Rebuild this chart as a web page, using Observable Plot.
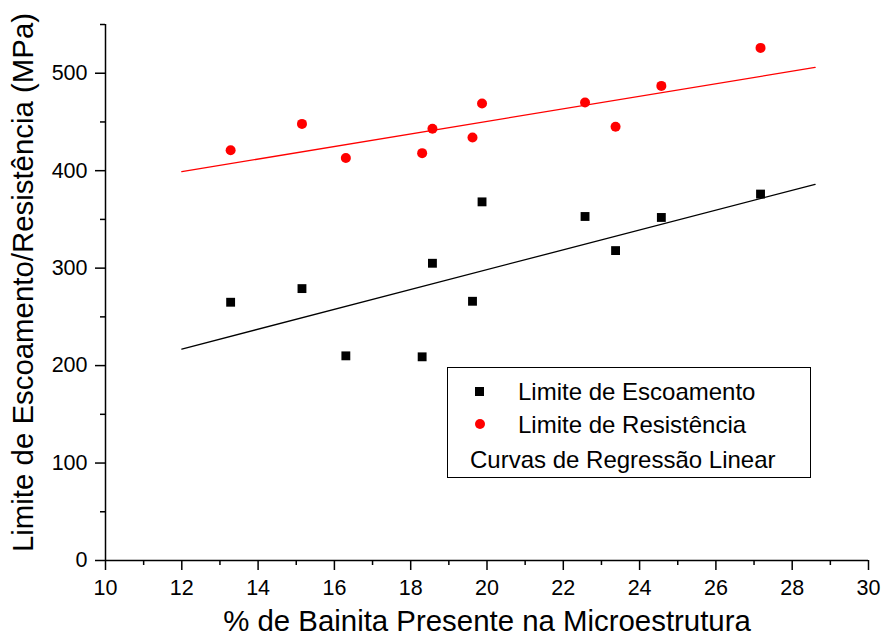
<!DOCTYPE html>
<html><head><meta charset="utf-8">
<script src="https://cdn.jsdelivr.net/npm/d3@7"></script>
<script src="https://cdn.jsdelivr.net/npm/@observablehq/plot@0.6"></script>
<style>
body{margin:0;background:#fff;font-family:"Liberation Sans",Arial,sans-serif;}
#wrap{position:relative;width:881px;height:644px;}
#wrap svg{overflow:visible;}
#legend{position:absolute;left:447px;top:367px;width:364px;height:111px;border:1.3px solid #000;box-sizing:border-box;background:#fff;font-size:24px;color:#000;}
#legend .row{position:absolute;white-space:nowrap;line-height:1;}
#legend .sq{position:absolute;width:9px;height:9px;background:#000;}
#legend .ci{position:absolute;width:10px;height:10px;border-radius:50%;background:#ff0000;}
</style></head>
<body><div id="wrap"></div>
<script>
const bainita = [13.28, 15.15, 16.30, 18.30, 18.57, 19.62, 19.87, 22.57, 23.37, 24.57, 27.17];
const escoamento = [265, 279, 210, 209, 305, 266, 368, 353, 318, 352, 376];
const resistencia = [421, 448, 413, 418, 443, 434, 469, 470, 445, 487, 526];
const regX = [12, 28.6];
const regEscoamento = [217, 386];
const regResistencia = [399, 506];
const xMajor = [10, 12, 14, 16, 18, 20, 22, 24, 26, 28, 30];
const xMinor = [11, 13, 15, 17, 19, 21, 23, 25, 27, 29];
const yMajor = [0, 100, 200, 300, 400, 500];
const yMinor = [50, 150, 250, 350, 450, 550];
const xTitle = "% de Bainita Presente na Microestrutura";
const yTitle = "Limite de Escoamento/Resistência (MPa)";
const legendLabels = ["Limite de Escoamento", "Limite de Resistência", "Curvas de Regressão Linear"];

const pts = bainita.map((x, i) => ({x, esc: escoamento[i], res: resistencia[i]}));
const regE = regX.map((x, i) => ({x, y: regEscoamento[i]}));
const regR = regX.map((x, i) => ({x, y: regResistencia[i]}));

const chart = Plot.plot({
  width: 881, height: 644,
  marginLeft: 105, marginRight: 13, marginTop: 24, marginBottom: 84,
  style: {fontFamily: '"Liberation Sans", Arial, sans-serif', color: "#000", background: "#fff", overflow: "visible"},
  x: {domain: [10, 30]},
  y: {domain: [0, 550]},
  marks: [
    Plot.axisX(xMajor, {tickSize: 10, tickPadding: 9, fontSize: 21.5, strokeWidth: 1.5, label: null}),
    Plot.axisX(xMinor, {tickSize: 5, tickFormat: () => "", strokeWidth: 1.5, label: null}),
    Plot.axisY(yMajor, {tickSize: 10, tickPadding: 8, fontSize: 21.5, strokeWidth: 1.5, label: null}),
    Plot.axisY(yMinor, {tickSize: 5, tickFormat: () => "", strokeWidth: 1.5, label: null}),
    Plot.ruleY([0], {strokeWidth: 1.5}),
    Plot.ruleX([10], {strokeWidth: 1.5}),
    Plot.line(regE, {x: "x", y: "y", stroke: "#000", strokeWidth: 1.3}),
    Plot.line(regR, {x: "x", y: "y", stroke: "#ff0000", strokeWidth: 1.3}),
    Plot.dot(pts, {x: "x", y: "esc", symbol: "square", fill: "#000", r: 5}),
    Plot.dot(pts, {x: "x", y: "res", symbol: "circle", fill: "#ff0000", r: 5}),
    Plot.text([xTitle], {frameAnchor: "bottom", dy: 70, fontSize: 29.4, fill: "#000", textAnchor: "middle"}),
    Plot.text([yTitle], {frameAnchor: "left", dx: -82, dy: -10, rotate: -90, fontSize: 29.4, fill: "#000", textAnchor: "middle"})
  ]
});
const wrap = document.getElementById("wrap");
wrap.appendChild(chart);

const lg = document.createElement("div");
lg.id = "legend";
lg.innerHTML =
  `<div class="sq" style="left:27px;top:19px"></div>` +
  `<div class="row" style="left:70px;top:12px">${legendLabels[0]}</div>` +
  `<div class="ci" style="left:27px;top:51px"></div>` +
  `<div class="row" style="left:70px;top:45px">${legendLabels[1]}</div>` +
  `<div class="row" style="left:22px;top:80px">${legendLabels[2]}</div>`;
wrap.appendChild(lg);
</script>
</body></html>
